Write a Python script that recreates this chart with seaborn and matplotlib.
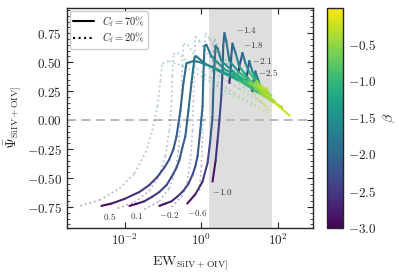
import numpy as np
import pandas as pd
import matplotlib
matplotlib.use('Agg')
import matplotlib.pyplot as plt
import seaborn as sns
from matplotlib import ticker
from matplotlib.lines import Line2D

# track labels (start of tracks 0.5 .. -1.0, peaks of tracks -1.4 .. -2.5)
track_labels = ['0.5', '0.1', '-0.2', '-0.6', '-1.0', '-1.4', '-1.8', '-2.1', '-2.5']
label_ew = [0.0040, 0.020, 0.146, 0.79, 3.5, 15, 23, 37, 56]
label_psi = [-0.83, -0.83, -0.82, -0.80, -0.62, 0.78, 0.65, 0.51, 0.41]

# C_f = 70% tracks: log10(EW), Psi and beta along each track
solid_logew = [
    [-2.61, -2.35, -2.01, -1.62, -1.36, -1.15, -0.97, -0.84, -0.73, -0.65, -0.60, -0.55, -0.47, -0.39,
     -0.21, -0.05, 0.34, 0.86, 1.38, 1.91, 2.30],
    [-1.88, -1.67, -1.49, -1.28, -1.10, -0.91, -0.78, -0.65, -0.57, -0.50, -0.42, -0.34, -0.26, -0.18,
     -0.13, 0.08, 0.47, 0.99, 1.51, 2.11],
    [-1.10, -0.94, -0.78, -0.63, -0.47, -0.34, -0.23, -0.16, -0.10, -0.03, 0.03, 0.05, 0.08, 0.13,
     0.26, 0.60, 1.12, 1.57, 1.93],
    [-0.37, -0.16, 0.03, 0.16, 0.23, 0.29, 0.31, 0.34, 0.37, 0.42, 0.52, 0.86, 1.25, 1.83],
    [0.29, 0.37, 0.42, 0.47, 0.52, 0.55, 0.57, 0.60, 0.65, 0.73, 0.99, 1.38, 1.78],
    [0.73, 0.76, 0.78, 0.81, 0.89, 0.99, 1.25, 1.51, 1.72],
    [0.97, 0.99, 1.04, 1.07, 1.15, 1.25, 1.46, 1.72],
    [1.17, 1.20, 1.25, 1.33, 1.44, 1.67],
    [1.33, 1.36, 1.41, 1.49, 1.57, 1.64],
]
solid_psi = [
    [-0.74, -0.72, -0.68, -0.62, -0.56, -0.49, -0.41, -0.34, -0.25, -0.14, -0.03, 0.08, 0.32, 0.49,
     0.51, 0.50, 0.45, 0.37, 0.28, 0.15, 0.04],
    [-0.74, -0.72, -0.70, -0.66, -0.62, -0.56, -0.49, -0.41, -0.34, -0.24, -0.14, 0.08, 0.32, 0.54,
     0.55, 0.49, 0.42, 0.34, 0.23, 0.11],
    [-0.74, -0.72, -0.70, -0.66, -0.61, -0.55, -0.47, -0.40, -0.31, -0.09, 0.12, 0.38, 0.64, 0.65,
     0.55, 0.44, 0.34, 0.25, 0.16],
    [-0.72, -0.64, -0.53, -0.37, -0.18, 0.03, 0.25, 0.47, 0.64, 0.62, 0.51, 0.41, 0.32, 0.21],
    [-0.53, -0.35, -0.18, 0.00, 0.21, 0.42, 0.64, 0.75, 0.68, 0.51, 0.41, 0.31, 0.23],
    [0.32, 0.42, 0.55, 0.66, 0.58, 0.46, 0.35, 0.28, 0.27],
    [0.41, 0.47, 0.53, 0.58, 0.49, 0.41, 0.32, 0.25],
    [0.32, 0.41, 0.51, 0.42, 0.34, 0.23],
    [0.25, 0.34, 0.42, 0.34, 0.27, 0.22],
]
solid_beta = [
    [-3.0, -2.85, -2.7, -2.55, -2.45, -2.35, -2.3, -2.25, -2.2, -2.15, -2.1, -2.05, -2.0, -1.95,
     -1.85, -1.8, -1.6, -1.3, -0.9, -0.4, -0.05],
    [-3.0, -2.85, -2.7, -2.55, -2.45, -2.35, -2.3, -2.25, -2.2, -2.15, -2.1, -2.0, -1.95, -1.9,
     -1.85, -1.7, -1.5, -1.2, -0.8, -0.1],
    [-3.0, -2.85, -2.7, -2.55, -2.45, -2.35, -2.3, -2.25, -2.2, -2.1, -2.0, -1.95, -1.9, -1.85,
     -1.7, -1.45, -1.1, -0.6, -0.1],
    [-3.0, -2.75, -2.55, -2.4, -2.25, -2.1, -2.0, -1.95, -1.9, -1.85, -1.6, -1.3, -0.9, -0.1],
    [-3.0, -2.7, -2.5, -2.4, -2.3, -2.2, -2.1, -2.0, -1.9, -1.7, -1.3, -0.8, -0.1],
    [-3.0, -2.5, -2.2, -2.0, -1.8, -1.5, -1.0, -0.5, -0.1],
    [-3.0, -2.5, -2.2, -2.0, -1.7, -1.3, -0.7, -0.1],
    [-3.0, -2.4, -2.0, -1.6, -1.0, -0.1],
    [-3.0, -2.4, -2.0, -1.5, -0.9, -0.1],
]

# C_f = 20% tracks
dotted_logew = [
    [-3.16, -2.66, -2.14, -1.75, -1.46, -1.28, -1.15, -1.07, -1.02, -0.84, -0.44, 0.08, 0.73, 1.38, 1.78],
    [-2.19, -1.75, -1.36, -1.10, -0.94, -0.84, -0.78, -0.76, -0.73, -0.63, -0.31, 0.21, 0.86, 1.51, 1.83],
    [-1.49, -1.10, -0.84, -0.68, -0.60, -0.55, -0.52, -0.50, -0.47, -0.37, -0.10, 0.34, 0.99, 1.57, 1.83],
    [-0.78, -0.52, -0.37, -0.29, -0.23, -0.21, -0.18, -0.16, -0.05, 0.21, 0.60, 1.12, 1.64, 1.78],
    [-0.05, 0.00, 0.03, 0.05, 0.08, 0.10, 0.21, 0.47, 0.86, 1.31, 1.72],
    [0.29, 0.31, 0.34, 0.47, 0.86, 1.38, 1.72],
]
dotted_psi = [
    [-0.74, -0.69, -0.59, -0.46, -0.28, -0.09, 0.12, 0.34, 0.49, 0.51, 0.46, 0.36, 0.23, 0.12, 0.05],
    [-0.76, -0.71, -0.61, -0.48, -0.31, -0.09, 0.16, 0.38, 0.57, 0.58, 0.49, 0.37, 0.23, 0.11, 0.04],
    [-0.77, -0.70, -0.59, -0.44, -0.27, -0.05, 0.21, 0.47, 0.66, 0.65, 0.53, 0.41, 0.27, 0.15, 0.08],
    [-0.75, -0.66, -0.54, -0.35, -0.09, 0.16, 0.47, 0.72, 0.68, 0.55, 0.42, 0.28, 0.13, 0.08],
    [-0.61, -0.40, -0.09, 0.25, 0.55, 0.75, 0.70, 0.55, 0.41, 0.25, 0.09],
    [0.42, 0.59, 0.70, 0.59, 0.42, 0.23, 0.11],
]
dotted_beta = [
    [-3.0, -2.8, -2.6, -2.4, -2.25, -2.1, -2.0, -1.95, -1.9, -1.8, -1.6, -1.3, -0.9, -0.5, -0.1],
    [-3.0, -2.8, -2.6, -2.4, -2.25, -2.1, -2.0, -1.95, -1.9, -1.85, -1.6, -1.3, -0.9, -0.5, -0.1],
    [-3.0, -2.8, -2.6, -2.4, -2.25, -2.1, -2.0, -1.95, -1.9, -1.85, -1.6, -1.3, -0.9, -0.5, -0.1],
    [-3.0, -2.8, -2.6, -2.4, -2.2, -2.1, -2.0, -1.9, -1.8, -1.6, -1.3, -0.9, -0.4, -0.1],
    [-3.0, -2.6, -2.3, -2.1, -2.0, -1.9, -1.8, -1.5, -1.1, -0.6, -0.1],
    [-2.6, -2.2, -2.0, -1.7, -1.2, -0.6, -0.1],
]

ew_band = (1.6, 70)


def to_segments(logew, psi, beta):
    # one 2-point piece per step so the colour can follow beta
    rows = []
    for k in range(len(logew)):
        for i in range(len(logew[k]) - 1):
            b = 0.5 * (beta[k][i] + beta[k][i + 1])
            for j in (i, i + 1):
                rows.append({'ew': 10 ** logew[k][j], 'psi': psi[k][j],
                             'beta': b, 'seg': f'{k}_{i}'})
    return pd.DataFrame(rows)


sns.set_style('ticks')
plt.rcParams.update({
    'font.family': 'serif',
    'font.serif': ['cmr10', 'DejaVu Serif'],
    'mathtext.fontset': 'cm',
    'axes.formatter.use_mathtext': True,
    'axes.unicode_minus': True,
    'axes.linewidth': 1.0,
})

fig = plt.figure(figsize=(3.99, 2.72), dpi=100)
ax = fig.add_axes([0.168, 0.162, 0.616, 0.81])
cax = fig.add_axes([0.820, 0.162, 0.040, 0.81])

ax.set_xscale('log')
ax.axvspan(*ew_band, color='#dedede', lw=0, zorder=0)
ax.axhline(0, color='#b4b4b4', ls=(0, (5, 3)), lw=1.3, zorder=1)

sns.lineplot(data=to_segments(dotted_logew, dotted_psi, dotted_beta), x='ew', y='psi',
             hue='beta', units='seg', estimator=None, sort=False, palette='viridis',
             hue_norm=(-3, 0), legend=False, lw=1.3, ls=(0, (1, 1.6)), alpha=0.35, ax=ax)
sns.lineplot(data=to_segments(solid_logew, solid_psi, solid_beta), x='ew', y='psi',
             hue='beta', units='seg', estimator=None, sort=False, palette='viridis',
             hue_norm=(-3, 0), legend=False, lw=1.5, solid_capstyle='round', ax=ax)

for lab, xe, yp in zip(track_labels, label_ew, label_psi):
    ax.text(xe, yp, '$' + lab + '$', fontsize=6.5, color='#333333', ha='center', va='center')

ax.set_xlim(3.1e-4, 810)
ax.set_ylim(-0.93, 0.97)
ax.xaxis.set_major_locator(ticker.FixedLocator([1e-2, 1, 1e2]))
ax.xaxis.set_major_formatter(ticker.LogFormatterSciNotation())
ax.xaxis.set_minor_locator(ticker.NullLocator())
ax.yaxis.set_major_locator(ticker.MultipleLocator(0.25))
ax.yaxis.set_minor_locator(ticker.MultipleLocator(0.05))
ax.yaxis.set_major_formatter(ticker.FormatStrFormatter('$%.2f$'))
ax.tick_params(which='both', direction='in', top=True, right=True, labelsize=9.5)
ax.tick_params(which='major', length=4)
ax.tick_params(which='minor', length=2)
ax.set_xlabel(r'${\rm EW}_{\rm SiIV+OIV]}$', fontsize=10, labelpad=4)
ax.set_ylabel(r'$\bar{\Psi}_{\rm SiIV+OIV]}$', fontsize=10, labelpad=2)

handles = [Line2D([], [], color='k', lw=1.5, ls='-'),
           Line2D([], [], color='k', lw=1.5, ls=':')]
ax.legend(handles, [r'$C_{\rm f}=70\%$', r'$C_{\rm f}=20\%$'], loc='upper left',
          fontsize=7.5, frameon=True, framealpha=1, edgecolor='0.8',
          handlelength=2.0, borderpad=0.3, labelspacing=0.2, borderaxespad=0.3)

sm = plt.cm.ScalarMappable(cmap='viridis', norm=plt.Normalize(-3, 0))
cb = fig.colorbar(sm, cax=cax)
cb.set_ticks([-3.0, -2.5, -2.0, -1.5, -1.0, -0.5])
cb.ax.yaxis.set_major_formatter(ticker.FormatStrFormatter('$%.1f$'))
cb.ax.tick_params(direction='in', labelsize=9.5, length=3)
cb.set_label(r'$\beta$', fontsize=10)
cb.outline.set_linewidth(1.0)

fig.savefig('out.png', dpi=100)
